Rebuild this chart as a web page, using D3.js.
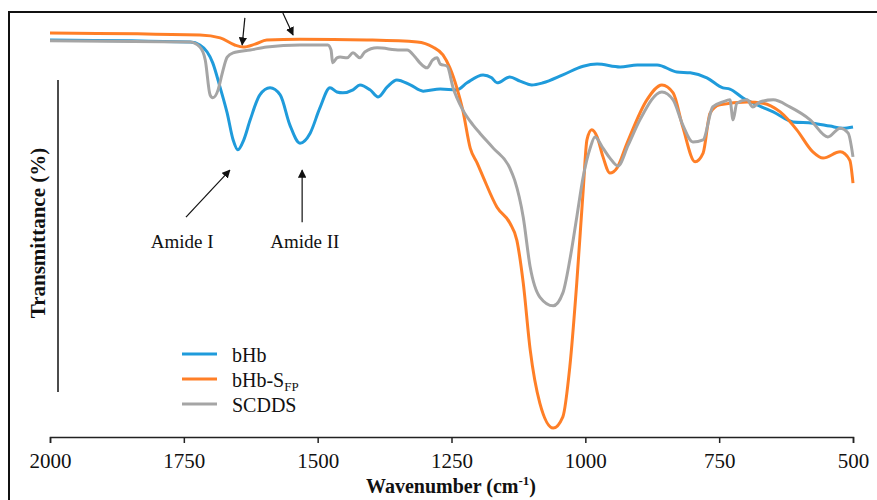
<!DOCTYPE html>
<html>
<head>
<meta charset="utf-8">
<script src="https://cdn.jsdelivr.net/npm/d3@7"></script>
<style>
  body { margin: 0; background: #fff; }
  text { font-family: "Liberation Serif", "Times New Roman", serif; }
</style>
</head>
<body>
<div id="chart"></div>
<script>
// wavenumber (cm-1), transmittance (arbitrary %)
let bhb = [
    [2000, 95.2], [1738, 94.7], [1720, 94.0], [1696, 89.7], [1682, 83.7], [1669, 77.6],
    [1658, 71.2], [1649, 68.8], [1638, 71.2], [1626, 76.0], [1608, 82.0], [1589, 83.7],
    [1570, 82.0], [1552, 74.8], [1533, 70.4], [1514, 72.8], [1496, 78.8], [1477, 83.7],
    [1464, 82.7], [1453, 82.5], [1434, 83.2], [1421, 84.4], [1402, 83.2], [1387, 81.5],
    [1370, 83.9], [1352, 85.6], [1327, 84.4], [1303, 82.9], [1271, 83.4], [1240, 83.2],
    [1221, 84.9], [1191, 86.8], [1175, 86.1], [1165, 84.9], [1141, 86.3], [1122, 85.3],
    [1100, 84.4], [1079, 84.9], [1042, 86.8], [1004, 88.9], [978, 89.4], [935, 88.7],
    [903, 89.2], [866, 89.2], [829, 87.5], [804, 87.3], [773, 86.1], [743, 83.7],
    [730, 83.4], [706, 81.3], [674, 79.3], [649, 77.9], [612, 75.5], [575, 75.2],
    [543, 74.5], [519, 74.0], [500, 74.3]
];

let bhbSfp = [
    [2000, 96.9], [1720, 96.4], [1682, 95.7], [1655, 94.0], [1639, 93.5], [1617, 94.2],
    [1595, 95.2], [1533, 95.4], [1408, 95.2], [1314, 94.7], [1285, 93.5], [1266, 91.6],
    [1253, 88.5], [1240, 83.7], [1229, 78.4], [1215, 69.2], [1202, 65.6], [1191, 62.3],
    [1165, 55.0], [1141, 51.2], [1128, 47.1], [1116, 36.8], [1103, 20.7], [1085, 7.9],
    [1060, 1.9], [1042, 4.6], [1029, 16.6], [1016, 36.8], [1004, 59.1], [997, 71.2],
    [988, 73.6], [978, 71.9], [967, 67.1], [954, 63.2], [941, 64.4], [922, 70.4],
    [885, 80.8], [857, 84.4], [836, 82.5], [818, 74.3], [795, 65.9], [780, 68.0],
    [767, 77.6], [749, 79.6], [698, 80.3], [668, 80.0], [636, 77.9], [605, 73.6],
    [575, 68.3], [556, 66.8], [524, 68.3], [506, 66.3], [500, 60.8]
];

let scdds = [
    [2000, 95.0], [1738, 94.7], [1720, 93.5], [1710, 90.4], [1701, 82.0], [1696, 81.3],
    [1686, 83.2], [1679, 86.8], [1669, 91.1], [1658, 92.1], [1626, 92.8], [1595, 93.5],
    [1533, 94.0], [1481, 94.0], [1475, 92.8], [1472, 89.7], [1464, 90.9], [1458, 91.1],
    [1445, 90.9], [1434, 92.1], [1421, 90.9], [1412, 92.3], [1389, 93.3], [1346, 92.8],
    [1333, 92.8], [1318, 91.1], [1309, 89.7], [1296, 88.5], [1285, 90.4], [1277, 90.9],
    [1271, 89.4], [1258, 88.9], [1247, 83.7], [1229, 78.4], [1210, 74.8], [1197, 72.8],
    [1172, 69.2], [1141, 64.4], [1132, 61.5], [1116, 52.6], [1103, 40.6], [1085, 33.4],
    [1060, 31.3], [1042, 34.4], [1029, 42.3], [1016, 52.6], [1004, 62.3], [991, 69.2],
    [982, 71.9], [967, 69.2], [954, 66.8], [939, 64.9], [920, 69.9], [898, 76.0],
    [857, 82.7], [836, 80.8], [818, 74.8], [799, 70.7], [780, 71.2], [762, 79.1],
    [743, 80.3], [730, 80.8], [724, 76.0], [717, 80.0], [698, 80.8], [687, 79.1],
    [674, 80.3], [649, 80.8], [618, 79.1], [580, 76.0], [547, 71.9], [524, 74.0],
    [509, 72.8], [500, 67.1]
];

let seriesNames = ["bHb", "bHb-S", "SCDDS"];
let seriesColors = ["#1f9bdb", "#ff7f27", "#a5a5a5"];
let xTicks = [2000, 1750, 1500, 1250, 1000, 750, 500];

let width = 877, height = 500;
let svg = d3.select("#chart").append("svg")
    .attr("width", width)
    .attr("height", height);

// frame around the figure
svg.append("rect")
    .attr("x", 9).attr("y", 12)
    .attr("width", 880).attr("height", 520)
    .attr("fill", "none")
    .attr("stroke", "#111")
    .attr("stroke-width", 2);

let x = d3.scaleLinear().domain([2000, 500]).range([50, 853]);
let y = d3.scaleLinear().domain([0, 100]).range([436, 20]);

svg.append("defs").append("marker")
    .attr("id", "arrow")
    .attr("viewBox", "0 0 10 10")
    .attr("refX", 9).attr("refY", 5)
    .attr("markerWidth", 7).attr("markerHeight", 7)
    .attr("orient", "auto")
    .append("path")
    .attr("d", "M0,0 L10,5 L0,10 z")
    .attr("fill", "#111");

// x axis
let xAxis = svg.append("g")
    .attr("transform", "translate(0,437)")
    .call(d3.axisBottom(x).tickValues(xTicks).tickSize(6).tickPadding(10).tickFormat(d3.format("d")));
xAxis.select(".domain").attr("stroke", "#222").attr("stroke-width", 1.5);
xAxis.selectAll(".tick line").attr("stroke", "#222").attr("stroke-width", 1.5);
xAxis.selectAll("text")
    .attr("font-size", 21)
    .attr("fill", "#111");

// bare y axis line
svg.append("line")
    .attr("x1", 58).attr("x2", 58)
    .attr("y1", 80).attr("y2", 392)
    .attr("stroke", "#111").attr("stroke-width", 1.5);

let xTitle = svg.append("text")
    .attr("x", 451).attr("y", 493)
    .attr("text-anchor", "middle")
    .attr("font-size", 20)
    .attr("font-weight", "bold")
    .attr("fill", "#111");
xTitle.append("tspan").text("Wavenumber (cm");
xTitle.append("tspan").attr("dy", -8).attr("font-size", 13).text("-1");
xTitle.append("tspan").attr("dy", 8).text(")");

svg.append("text")
    .attr("transform", "translate(45,233) rotate(-90)")
    .attr("text-anchor", "middle")
    .attr("font-size", 21)
    .attr("font-weight", "bold")
    .attr("fill", "#111")
    .text("Transmittance (%)");

let line = d3.line()
    .x(d => x(d[0]))
    .y(d => y(d[1]))
    .curve(d3.curveMonotoneX);

[bhb, bhbSfp, scdds].forEach((s, i) => {
    svg.append("path")
        .datum(s)
        .attr("fill", "none")
        .attr("stroke", seriesColors[i])
        .attr("stroke-width", 3)
        .attr("stroke-linejoin", "round")
        .attr("d", line);
});

// annotations
function arrow(x1, y1, x2, y2) {
    svg.append("line")
        .attr("x1", x(x1)).attr("y1", y(y1))
        .attr("x2", x(x2)).attr("y2", y(y2))
        .attr("stroke", "#111").attr("stroke-width", 1.2)
        .attr("marker-end", "url(#arrow)");
}
arrow(1636, 100.5, 1641, 94.0);
arrow(1565, 101.7, 1546, 96.4);
arrow(1746, 52.6, 1664, 63.9);
arrow(1529, 51.4, 1529, 63.9);

svg.append("text")
    .attr("x", x(1753)).attr("y", y(45.2))
    .attr("text-anchor", "middle")
    .attr("font-size", 19)
    .attr("fill", "#111")
    .text("Amide I");
svg.append("text")
    .attr("x", x(1524)).attr("y", y(45.2))
    .attr("text-anchor", "middle")
    .attr("font-size", 19)
    .attr("fill", "#111")
    .text("Amide II");

// legend
let legend = svg.append("g").attr("transform", "translate(182,354)");
seriesNames.forEach((name, i) => {
    let row = legend.append("g").attr("transform", `translate(0,${i * 25})`);
    row.append("line")
        .attr("x1", 0).attr("x2", 35)
        .attr("stroke", seriesColors[i])
        .attr("stroke-width", 3);
    let t = row.append("text")
        .attr("x", 50).attr("y", 8)
        .attr("font-size", 20)
        .attr("fill", "#111")
        .text(name);
    if (i === 1) {
        t.append("tspan").attr("dy", 4).attr("font-size", 13).text("FP");
    }
});
</script>
</body>
</html>
